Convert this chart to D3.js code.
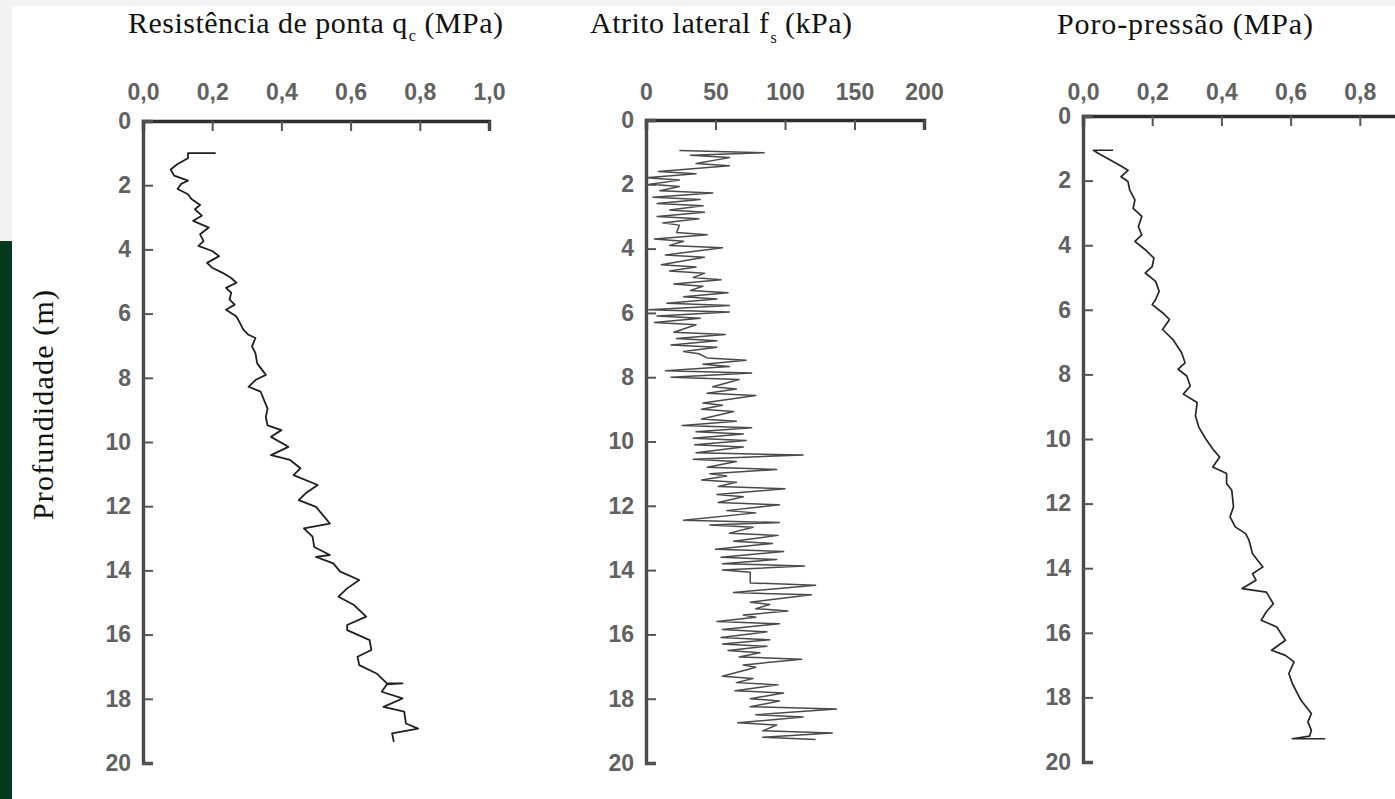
<!DOCTYPE html>
<html><head><meta charset="utf-8">
<script src="https://cdn.jsdelivr.net/npm/d3@7"></script>
<style>body{margin:0;background:#f2f2f2;} svg{display:block}</style>
</head><body>
<svg id="chart" width="1395" height="799"></svg>
<script>
// ---------- data ----------
const depthTicks = [0, 2, 4, 6, 8, 10, 12, 14, 16, 18, 20];
const depthTickLabels = ["0", "2", "4", "6", "8", "10", "12", "14", "16", "18", "20"];
const qcTicks = [0, 0.2, 0.4, 0.6, 0.8, 1.0];
const qcTickLabels = ["0,0", "0,2", "0,4", "0,6", "0,8", "1,0"];
const fsTicks = [0, 50, 100, 150, 200];
const fsTickLabels = ["0", "50", "100", "150", "200"];
const uTicks = [0, 0.2, 0.4, 0.6, 0.8];
const uTickLabels = ["0,0", "0,2", "0,4", "0,6", "0,8"];

const titles = ["Resistência de ponta q", "Atrito lateral f", "Poro-pressão (MPa)"];
const yTitle = "Profundidade (m)";

// cone resistance qc (MPa) vs depth (m)
const qcDepth = [1.0, 1.0, 1.16, 1.34, 1.51, 1.70, 1.86, 1.96, 2.12, 2.28, 2.43, 2.62, 2.75, 2.95, 3.11, 3.32, 3.53, 3.74, 3.89, 4.05, 4.21, 4.42, 4.57, 4.73, 4.89, 5.04, 5.20, 5.35, 5.56, 5.72, 5.88, 6.09, 6.29, 6.50, 6.66, 6.76, 7.02, 7.23, 7.55, 7.91, 8.07, 8.28, 8.43, 8.70, 8.96, 9.22, 9.48, 9.63, 9.84, 10.15, 10.41, 10.56, 10.82, 11.03, 11.34, 11.60, 11.81, 12.02, 12.28, 12.54, 12.69, 12.95, 13.27, 13.52, 13.58, 13.78, 14.04, 14.30, 14.56, 14.82, 15.08, 15.44, 15.70, 15.86, 16.17, 16.48, 16.69, 16.95, 17.21, 17.52, 17.52, 17.55, 17.78, 17.99, 18.25, 18.40, 18.77, 18.93, 19.08, 19.34];
const qcValue = [0.21, 0.13, 0.13, 0.10, 0.08, 0.09, 0.13, 0.11, 0.10, 0.13, 0.14, 0.165, 0.15, 0.17, 0.145, 0.19, 0.165, 0.175, 0.16, 0.20, 0.22, 0.185, 0.20, 0.23, 0.255, 0.27, 0.24, 0.255, 0.25, 0.265, 0.24, 0.27, 0.28, 0.29, 0.305, 0.325, 0.315, 0.325, 0.33, 0.355, 0.325, 0.305, 0.34, 0.35, 0.36, 0.355, 0.36, 0.40, 0.37, 0.42, 0.37, 0.425, 0.455, 0.435, 0.505, 0.47, 0.45, 0.50, 0.52, 0.54, 0.465, 0.49, 0.495, 0.54, 0.50, 0.55, 0.57, 0.625, 0.59, 0.565, 0.61, 0.645, 0.59, 0.59, 0.655, 0.66, 0.62, 0.625, 0.675, 0.705, 0.75, 0.705, 0.69, 0.75, 0.695, 0.755, 0.76, 0.795, 0.72, 0.725];

// sleeve friction fs (kPa): per depth row, left and right swing of the trace
const fsDepth = [0.95, 1.1, 1.35, 1.6, 1.8, 2.0, 2.2, 2.4, 2.6, 2.8, 3.0, 3.2, 3.5, 3.7, 3.9, 4.2, 4.5, 4.7, 4.9, 5.1, 5.3, 5.5, 5.7, 5.9, 6.1, 6.3, 6.6, 6.8, 7.0, 7.2, 7.4, 7.6, 7.8, 8.0, 8.3, 8.5, 8.8, 9.0, 9.3, 9.5, 9.7, 9.9, 10.1, 10.35, 10.55, 10.8, 11.0, 11.2, 11.4, 11.65, 11.9, 12.15, 12.45, 12.6, 12.85, 13.1, 13.35, 13.6, 13.8, 14.0, 14.4, 14.7, 15.0, 15.2, 15.4, 15.6, 15.85, 16.1, 16.3, 16.5, 16.7, 16.95, 17.3, 17.5, 17.75, 18.0, 18.25, 18.5, 18.75, 19.0, 19.2];
const fsLeft = [24, 32, 36, 9, 0, 3, 10, 5, 8, 17, 8, 12, 22, 6, 17, 14, 11, 17, 34, 20, 32, 27, 15, 2, 8, 6, 20, 22, 18, 27, 44, 41, 14, 18, 48, 44, 41, 40, 40, 26, 36, 34, 35, 36, 34, 44, 46, 40, 52, 51, 52, 58, 27, 46, 60, 63, 50, 54, 55, 55, 75, 63, 75, 79, 70, 51, 55, 54, 55, 59, 67, 70, 55, 65, 64, 75, 75, 79, 66, 84, 84];
const fsRight = [85, 60, 60, 36, 24, 24, 48, 39, 41, 42, 38, 24, 44, 27, 55, 42, 36, 42, 54, 41, 59, 51, 60, 60, 39, 36, 57, 51, 51, 38, 72, 60, 76, 67, 65, 79, 55, 63, 65, 76, 70, 72, 70, 113, 65, 94, 58, 65, 100, 70, 96, 79, 96, 77, 95, 91, 99, 94, 114, 75, 122, 119, 89, 102, 79, 96, 87, 89, 87, 82, 112, 79, 77, 95, 99, 96, 137, 113, 94, 134, 122];

// pore pressure u (MPa) vs depth (m)
const uDepth = [1.06, 1.06, 1.16, 1.37, 1.52, 1.68, 1.88, 2.03, 2.29, 2.60, 2.86, 3.11, 3.42, 3.68, 3.88, 4.14, 4.40, 4.66, 4.86, 5.12, 5.43, 5.68, 5.84, 6.09, 6.30, 6.61, 6.92, 7.33, 7.64, 7.84, 8.05, 8.36, 8.61, 8.87, 9.28, 9.64, 10.0, 10.31, 10.56, 10.87, 11.07, 11.38, 11.59, 12.10, 12.41, 12.72, 12.93, 13.14, 13.55, 13.96, 14.17, 14.37, 14.63, 14.74, 15.10, 15.35, 15.61, 15.82, 16.23, 16.54, 16.70, 16.90, 17.26, 17.57, 18.09, 18.50, 18.76, 19.02, 19.20, 19.28, 19.28];
const uValue = [0.087, 0.03, 0.045, 0.08, 0.105, 0.13, 0.11, 0.13, 0.135, 0.15, 0.145, 0.17, 0.16, 0.17, 0.15, 0.18, 0.205, 0.20, 0.18, 0.21, 0.22, 0.21, 0.20, 0.23, 0.25, 0.23, 0.26, 0.285, 0.295, 0.275, 0.30, 0.31, 0.29, 0.33, 0.325, 0.335, 0.355, 0.375, 0.395, 0.375, 0.415, 0.415, 0.43, 0.435, 0.425, 0.44, 0.47, 0.48, 0.49, 0.52, 0.49, 0.50, 0.46, 0.53, 0.55, 0.53, 0.515, 0.56, 0.585, 0.545, 0.585, 0.61, 0.595, 0.605, 0.63, 0.66, 0.65, 0.66, 0.655, 0.605, 0.70];

// ---------- drawing ----------
const svg = d3.select("#chart");
svg.append("rect").attr("x", 0).attr("y", 0).attr("width", 1395).attr("height", 799).attr("fill", "#f2f2f2");
svg.append("rect").attr("x", 12).attr("y", 6).attr("width", 1383).attr("height", 793).attr("fill", "#ffffff");
svg.append("rect").attr("x", 0).attr("y", 241).attr("width", 12).attr("height", 558).attr("fill", "#04391d");

const tickFont = "'Liberation Sans Narrow','Arial Narrow','Liberation Sans',Arial,sans-serif";
const serif = "'Liberation Serif','Times New Roman',serif";

function panel(cfg) {
  const x = d3.scaleLinear().domain(cfg.xDomain).range([cfg.x0, cfg.x1]);
  const y = d3.scaleLinear().domain([0, 20]).range([cfg.y0, cfg.y1]);
  const g = svg.append("g");

  const top = g.append("g").attr("transform", `translate(0,${cfg.y0})`)
    .call(d3.axisTop(x).tickValues(cfg.ticks).tickFormat((d, i) => cfg.labels[i])
      .tickSizeInner(-10).tickSizeOuter(-10).tickPadding(cfg.y0 - 100));
  const left = g.append("g").attr("transform", `translate(${cfg.x0},0)`)
    .call(d3.axisLeft(y).tickValues(depthTicks).tickFormat((d, i) => depthTickLabels[i])
      .tickSizeInner(-10).tickSizeOuter(-10).tickPadding(12));

  [top, left].forEach(a => {
    a.attr("font-size", null).attr("font-family", null);
    a.select(".domain").attr("stroke-width", 3.4).attr("stroke-linejoin", "miter");
    a.selectAll(".tick line").attr("stroke", "#555").attr("stroke-width", 2);
    a.selectAll(".tick text").attr("fill", "#616161").style("font-family", tickFont)
      .style("font-size", "23px").style("font-weight", "bold");
  });
  top.select(".domain").attr("stroke", "#2e2e2e");
  left.select(".domain").attr("stroke", "#4a4a4a");

  g.append("path").datum(cfg.points)
    .attr("fill", "none").attr("stroke", cfg.color).attr("stroke-width", cfg.width)
    .attr("stroke-linejoin", "round")
    .attr("d", d3.line().x(p => x(p[1])).y(p => y(p[0])));
}

const qcPts = qcDepth.map((d, i) => [d, qcValue[i]]);
const uPts = uDepth.map((d, i) => [d, uValue[i]]);
const fsPts = [];
fsDepth.forEach((d, i) => { fsPts.push([d, fsLeft[i]]); fsPts.push([d + 0.07, fsRight[i]]); });

panel({ xDomain: [0, 1], x0: 143, x1: 489, y0: 121, y1: 763, ticks: qcTicks, labels: qcTickLabels, points: qcPts, color: "#1f1f1f", width: 1.8 });
panel({ xDomain: [0, 200], x0: 646, x1: 924, y0: 120, y1: 763, ticks: fsTicks, labels: fsTickLabels, points: fsPts, color: "#4a4a4a", width: 1.5 });
panel({ xDomain: [0, 1], x0: 1083, x1: 1429, y0: 116, y1: 762, ticks: uTicks, labels: uTickLabels, points: uPts, color: "#262626", width: 1.7 });

// titles
const t1 = svg.append("text").attr("x", 128).attr("y", 33).attr("font-family", serif).attr("font-size", 30).attr("fill", "#111")
  .attr("textLength", 375).attr("lengthAdjust", "spacing");
t1.append("tspan").text(titles[0]);
t1.append("tspan").attr("font-size", 16).attr("dy", 8).attr("dx", 1).text("c");
t1.append("tspan").attr("dy", -8).text(" (MPa)");
const t2 = svg.append("text").attr("x", 590).attr("y", 33).attr("font-family", serif).attr("font-size", 30).attr("fill", "#111")
  .attr("textLength", 262).attr("lengthAdjust", "spacing");
t2.append("tspan").text(titles[1]);
t2.append("tspan").attr("font-size", 16).attr("dy", 10).attr("dx", 1).text("s");
t2.append("tspan").attr("dy", -10).text(" (kPa)");
svg.append("text").attr("x", 1057).attr("y", 34).attr("font-family", serif).attr("font-size", 30).attr("fill", "#111")
  .attr("textLength", 256).attr("lengthAdjust", "spacing").text(titles[2]);
svg.append("text").attr("transform", "translate(53,405) rotate(-90)").attr("text-anchor", "middle")
  .attr("font-family", serif).attr("font-size", 30).attr("fill", "#111")
  .attr("textLength", 230).attr("lengthAdjust", "spacing").text(yTitle);
</script>
</body></html>
